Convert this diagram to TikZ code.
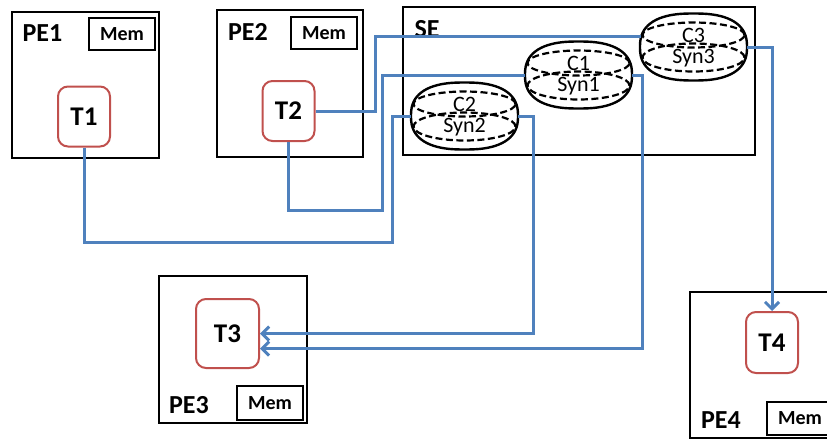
\documentclass[tikz,border=0pt]{standalone}
\usepackage{fontspec}
\setmainfont{Carlito}
\usetikzlibrary{arrows.meta,shapes.geometric}
\definecolor{linkblue}{RGB}{79,129,189}
\definecolor{taskred}{RGB}{192,80,77}
\tikzset{
  pebox/.style={draw=black,line width=2.4pt,rectangle,inner sep=0pt},
  membox/.style={draw=black,line width=2pt,rectangle,inner sep=0pt,minimum width=66pt,minimum height=32pt,font=\bfseries\fontsize{20}{20}\selectfont},
  taskbox/.style={draw=taskred,line width=2pt,rounded corners=10pt,rectangle,inner sep=0pt,minimum width=52pt,minimum height=60pt,font=\bfseries\fontsize{27}{27}\selectfont},
  lbl/.style={inner sep=0pt,font=\bfseries\fontsize{26}{26}\selectfont},
  chanbox/.style={draw=none,rectangle,inner sep=0pt,minimum width=107pt,minimum height=67pt},
  chanline/.style={draw=black,line width=2.4pt},
  chanin/.style={draw=black,line width=2.2pt,dash pattern=on 7pt off 3.5pt,ellipse,inner sep=0pt,minimum width=102pt},
  chantxt/.style={inner sep=0pt,font=\fontsize{22}{22}\selectfont},
  link/.style={draw=linkblue,line width=3pt},
  arr/.style={-{Straight Barb[length=7pt,width=14pt]}},
}
\newcommand\mychan[5]{%
  \node[chanbox] (#1) at (#2,#3) {};
  \draw[chanline] plot[domain=0:355,samples=72,smooth cycle,variable=\t]
    ({#2+53.5*sign(cos(\t))*abs(cos(\t))^(0.8)},{#3+33.5*sign(sin(\t))*abs(sin(\t))^(0.8)});
  \node[chanin,minimum height=25pt] (#1top) at (#2,#3-12) {};
  \node[chanin,minimum height=28pt] (#1bot) at (#2,#3+10.5) {};
  \node[chantxt] (#1lab) at (#2,#3-12) {#4};
  \node[chantxt] (#1syn) at (#2,#3+11) {#5};
}
\begin{document}
\begin{tikzpicture}[x=1pt,y=-1pt]
\useasboundingbox (0,0) rectangle (827,439);
% PE1
\node[pebox,minimum width=147pt,minimum height=146pt] (pe1) at (85.5,85) {};
\node[membox] (mem1) at (122,34) {Mem};
\node[lbl] (pe1l) at (42.5,33) {PE1};
\node[taskbox] (t1) at (84,116.5) {T1};
% PE2
\node[pebox,minimum width=146pt,minimum height=147pt] (pe2) at (290,83.5) {};
\node[membox] (mem2) at (324,33) {Mem};
\node[lbl] (pe2l) at (248,32) {PE2};
\node[taskbox] (t2) at (288.5,111) {T2};
% SE
\node[pebox,minimum width=352pt,minimum height=148pt] (se) at (579,81) {};
\node[lbl] (sel) at (427,29) {SE};
\mychan{c3}{693.5}{47}{C3}{Syn3}
\mychan{c1}{578.5}{75}{C1}{Syn1}
\mychan{c2}{464.5}{116}{C2}{Syn2}
% PE3
\node[pebox,minimum width=148pt,minimum height=147pt] (pe3) at (233,349.5) {};
\node[taskbox,minimum width=63pt,minimum height=69pt] (t3) at (227.5,333.5) {T3};
\node[membox,minimum height=34pt] (mem3) at (270,403) {Mem};
\node[lbl] (pe3l) at (189,405) {PE3};
% PE4
\node[pebox,minimum width=160pt,minimum height=146pt] (pe4) at (770,365) {};
\node[taskbox,minimum height=61pt] (t4) at (772,342.5) {T4};
\node[membox,minimum height=33pt] (mem4) at (800,418.5) {Mem};
\node[lbl] (pe4l) at (721,420) {PE4};
% links
\draw[link] (t2.east) -- ++(60,0) |- ([xshift=1pt,yshift=11pt]c3.west);
\draw[link] (t2.south) |- ++(93.5,68) |- (c1.west);
\draw[link] (t1.south) |- ++(308,95) |- (c2.west);
\draw[link,arr] (c3.east) -| (t4.north);
\draw[link,arr] (c2.east) -- ++(15,0) |- (t3.east);
\draw[link,arr] (c1.east) -- ++(10,0) |- ([yshift=-15pt]t3.east);
\end{tikzpicture}
\end{document}
